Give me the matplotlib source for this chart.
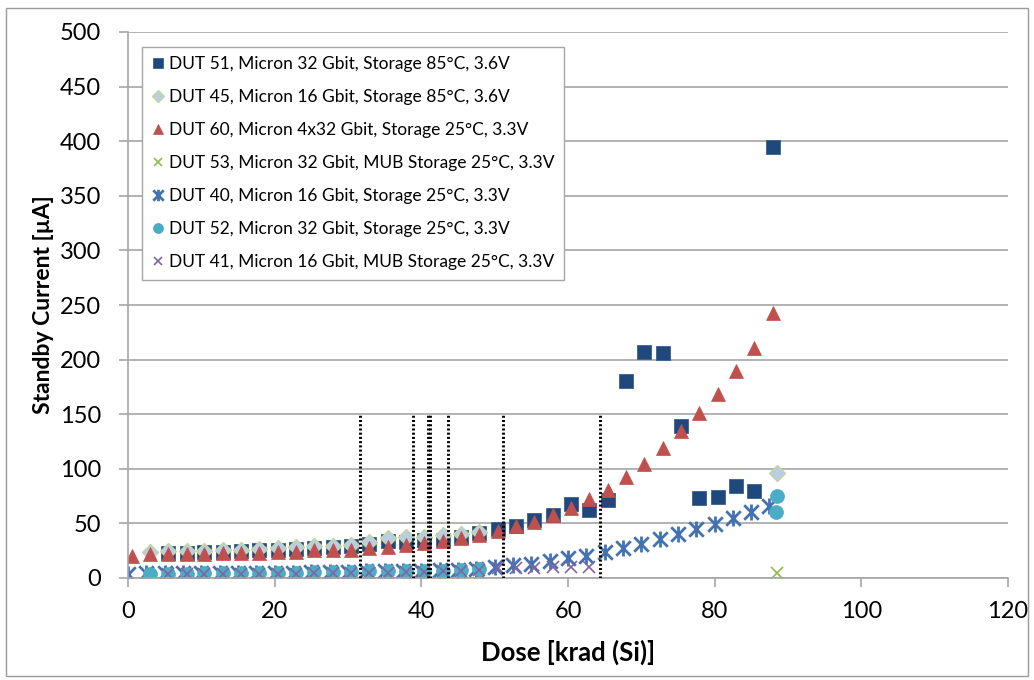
import matplotlib
matplotlib.use("Agg")
import matplotlib.pyplot as plt
from matplotlib.path import Path
from matplotlib.patches import Rectangle

plt.rcParams['font.family'] = ['Lato', 'DejaVu Sans']

# dose grid shared by most of the series [krad (Si)]
dose_a = [0.5, 3.0, 5.5, 8.0, 10.4, 12.9, 15.4, 17.9, 20.4, 22.9, 25.4, 27.9,
          30.4, 32.9, 35.4, 37.9, 40.4, 42.9, 45.4, 47.9, 50.4, 52.9, 55.4, 57.9,
          60.4, 62.9, 65.4, 67.9, 70.4, 72.9, 75.4, 77.9, 80.4, 82.9, 85.4, 87.9]

dut51_dose = dose_a[2:]
dut51_cur = [23, 23, 23.5, 24, 25, 25.5, 26, 26.5, 27.5, 28, 29, 31, 34, 33, 35,
             34.5, 37.5, 41, 44.8, 47.2, 53.3, 57.9, 68, 62.5, 71, 180, 207, 206,
             139, 73, 73.8, 84, 79.3, 395]

dut45_dose = dose_a[1:20] + [88.5]
dut45_cur = [24, 24.5, 25, 25, 25.5, 26, 27, 27.5, 28, 29, 29.5, 30.5, 33, 36.5,
             37.5, 38, 39, 40, 42, 96]

dut60_dose = dose_a
dut60_cur = [20, 22, 22, 22, 22, 22.5, 23, 23, 23.5, 24, 25.5, 25.7, 26, 27.3,
             28.8, 30.3, 31.9, 34, 36.5, 39.5, 42.6, 47.2, 51.7, 57.9, 64.1, 72.3,
             81, 92.2, 104.8, 119.2, 134.5, 151.4, 168.8, 189.6, 210.5, 242.6]

dut53_dose = dose_a[2:20] + [88.5]
dut53_cur = [1.5, 1.5, 1.5, 1.5, 1.5, 1.5, 2, 2, 2, 2, 2, 2, 2, 2, 2.5, 2.5, 2.5,
             2.5, 5]

dut40_dose = [0, 2.5, 5, 7.5, 10, 12.5, 15, 17.5, 20, 22.5, 25, 27.5, 30, 32.5,
              35, 37.5, 40, 42.5, 45, 47.5, 50, 52.5, 55, 57.5, 60, 62.5, 65,
              67.5, 70, 72.5, 75, 77.5, 80, 82.5, 85, 87.4]
dut40_cur = [4, 4.5, 4.5, 4.5, 4.5, 4.5, 5, 5, 5, 5, 5.5, 5.5, 5.5, 6, 6, 6.5,
             6.5, 7, 7.5, 8.5, 10, 11.5, 13, 15.5, 18, 20, 23.5, 27.5, 31.5, 36,
             40, 45, 49.5, 55, 60.5, 65.5]

dut52_dose = dose_a[1:20] + [88.4, 88.5]
dut52_cur = [4, 4, 4, 4.5, 4.5, 4.5, 5, 5, 5, 5.5, 5.5, 5.5, 6, 6, 6, 6.5, 6.5,
             7, 8.5, 60.5, 75.5]

dut41_dose = dose_a[2:26]
dut41_cur = [3.5, 3.5, 3.5, 3.5, 4, 4, 4, 4, 4.5, 4.5, 4.5, 5, 5, 5.5, 5.5, 6,
             6.5, 7.5, 8.9, 9, 9, 9.8, 9.8, 10.4]

# dotted marker lines (dose values)
marker_doses = [31.6, 38.8, 40.9, 41.2, 43.7, 51.2, 64.3]
marker_top = 150

labels = [
    "DUT 51, Micron 32 Gbit, Storage 85°C, 3.6V",
    "DUT 45, Micron 16 Gbit, Storage 85°C, 3.6V",
    "DUT 60, Micron 4x32 Gbit, Storage 25°C, 3.3V",
    "DUT 53, Micron 32 Gbit, MUB Storage 25°C, 3.3V",
    "DUT 40, Micron 16 Gbit, Storage 25°C, 3.3V",
    "DUT 52, Micron 32 Gbit, Storage 25°C, 3.3V",
    "DUT 41, Micron 16 Gbit, MUB Storage 25°C, 3.3V",
]

# Excel-like asterisk: X with a vertical bar
star = Path([(-1, -1), (1, 1), (-1, 1), (1, -1), (0, -1.1), (0, 1.1)],
            [Path.MOVETO, Path.LINETO, Path.MOVETO, Path.LINETO, Path.MOVETO, Path.LINETO])

fig = plt.figure(figsize=(10.34, 6.8), dpi=100)
ax = fig.add_axes([128 / 1034, 1 - 578 / 680, 880 / 1034, 546 / 680])

# outer chart border
fig.patches.append(Rectangle((6 / 1034, 4 / 680), 1022 / 1034, 668 / 680,
                             transform=fig.transFigure, fill=False,
                             edgecolor="#9a9a9a", linewidth=1))

ax.plot(dut51_dose, dut51_cur, ls="none", marker="s", ms=9.5, mfc="#1F497D",
        mec="#3a5f8f", mew=0.6, label=labels[0])
ax.plot(dut45_dose, dut45_cur, ls="none", marker="D", ms=8, mfc="#B9CDE5",
        mec="#C3D69B", mew=1.0, label=labels[1])
ax.plot(dut60_dose, dut60_cur, ls="none", marker="^", ms=10, mfc="#C0504D",
        mec="#C0504D", mew=0.5, label=labels[2])
ax.plot(dut53_dose, dut53_cur, ls="none", marker="x", ms=8, mec="#9BBB59",
        mew=1.3, label=labels[3])
ax.plot(dut40_dose, dut40_cur, ls="none", marker=star, ms=11.5, mfc="none",
        mec="#4372B2", mew=2.0, label=labels[4])
ax.plot(dut52_dose, dut52_cur, ls="none", marker="o", ms=10, mfc="#4BACC6",
        mec="#4BACC6", mew=0.5, label=labels[5])
ax.plot(dut41_dose, dut41_cur, ls="none", marker="x", ms=8, mec="#8064A2",
        mew=1.2, label=labels[6])

for d in marker_doses:
    ax.plot([d, d], [0, marker_top], color="black", lw=2.1,
            ls=(0, (0.7, 0.75)), zorder=5)

ax.set_xlim(0, 120)
ax.set_ylim(0, 500)
ax.set_xticks(range(0, 121, 20))
ax.set_yticks(range(0, 501, 50))
ax.yaxis.grid(True, color="#A6A6A6", lw=1.2)
ax.set_axisbelow(True)
for s in ["top", "right"]:
    ax.spines[s].set_visible(False)
for s in ["left", "bottom"]:
    ax.spines[s].set_color("#A6A6A6")
    ax.spines[s].set_linewidth(1.2)
ax.tick_params(axis="both", direction="out", length=6.5, width=1.2,
               color="#A6A6A6", labelsize=17)
ax.tick_params(axis="y", pad=13)
ax.tick_params(axis="x", pad=10)

ax.set_xlabel("Dose [krad (Si)]", fontsize=18.5, fontweight="bold", labelpad=13)
ax.set_ylabel("Standby Current [µA]", fontsize=16.5, fontweight="bold", labelpad=4)

leg = ax.legend(loc="upper left", bbox_to_anchor=(0.016, 0.973), borderaxespad=0,
                fontsize=12.5, fancybox=False, framealpha=1, edgecolor="#A6A6A6",
                handlelength=0.7, handletextpad=0.3, labelspacing=0.98,
                borderpad=0.55, markerscale=0.72)
leg.get_frame().set_linewidth(1.0)

fig.savefig("out.png", dpi=100)
